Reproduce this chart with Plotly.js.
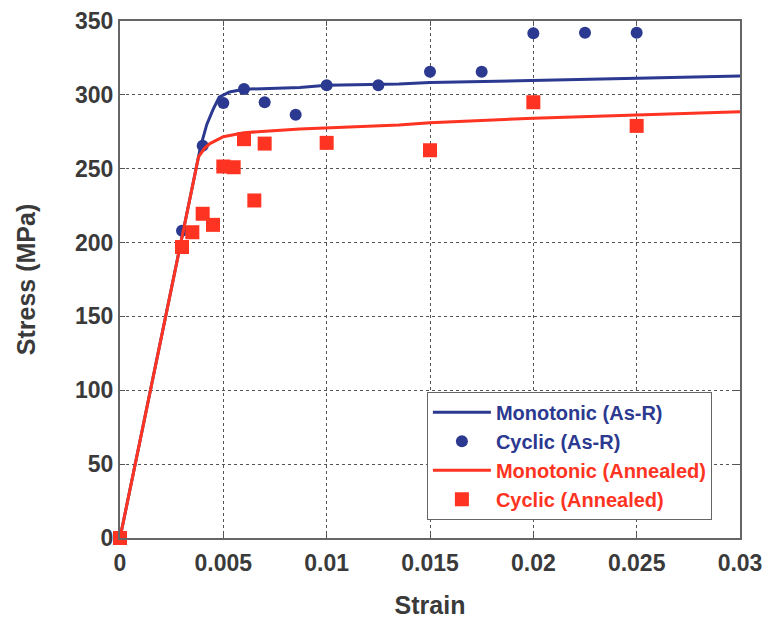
<!DOCTYPE html>
<html>
<head>
<meta charset="utf-8">
<script src="https://cdn.plot.ly/plotly-3.0.1.min.js"></script>
<style>html,body{margin:0;padding:0;background:#fff;}#chart{width:766px;height:622px;}</style>
</head>
<body>
<div id="chart"></div>
<script>
// Monotonic (As-R)
const monoAsRStrain = [0, 0.0039, 0.0042, 0.0045, 0.0048, 0.0053, 0.006, 0.0087, 0.01, 0.0135, 0.015, 0.02, 0.025, 0.03];
const monoAsRStress = [0, 265, 280, 290, 298.5, 302, 303.8, 305, 306.5, 307.4, 308.3, 310, 311.2, 312.8];
// Cyclic (As-R)
const cycAsRStrain = [0.003, 0.004, 0.005, 0.006, 0.007, 0.0085, 0.01, 0.0125, 0.015, 0.0175, 0.02, 0.0225, 0.025];
const cycAsRStress = [208, 265.5, 294.5, 304, 295, 286.5, 306.5, 306.5, 315.7, 315.7, 341.7, 342, 342];
// Monotonic (Annealed)
const monoAnnStrain = [0, 0.0038, 0.0041, 0.00435, 0.005, 0.006, 0.0087, 0.0135, 0.015, 0.02, 0.025, 0.03];
const monoAnnStress = [0, 258, 264, 267, 271.7, 274.4, 276.9, 279.6, 281.2, 284.2, 286.4, 288.6];
// Cyclic (Annealed)
const cycAnnStrain = [0, 0.003, 0.0035, 0.004, 0.0045, 0.005, 0.0055, 0.006, 0.0065, 0.007, 0.01, 0.015, 0.02, 0.025];
const cycAnnStress = [0, 197, 207, 219.5, 212, 251.5, 251, 270, 228.5, 267, 267.5, 262.5, 295, 279];

const xTickVals = [0, 0.005, 0.01, 0.015, 0.02, 0.025, 0.03];
const xTickText = ['0', '0.005', '0.01', '0.015', '0.02', '0.025', '0.03'];
const yTickVals = [0, 50, 100, 150, 200, 250, 300, 350];

const BLUE = '#2b3990';
const RED = '#ff3322';
const FONT = 'Liberation Sans, Arial, sans-serif';

const traces = [
  {x: monoAsRStrain, y: monoAsRStress, mode: 'lines', type: 'scatter',
   name: '<span style="color:' + BLUE + '">Monotonic (As-R)</span>',
   line: {color: BLUE, width: 3}},
  {x: cycAsRStrain, y: cycAsRStress, mode: 'markers', type: 'scatter', cliponaxis: false,
   name: '<span style="color:' + BLUE + '">Cyclic (As-R)</span>',
   marker: {color: BLUE, size: 12, symbol: 'circle'}},
  {x: monoAnnStrain, y: monoAnnStress, mode: 'lines', type: 'scatter',
   name: '<span style="color:' + RED + '">Monotonic (Annealed)</span>',
   line: {color: RED, width: 3}},
  {x: cycAnnStrain, y: cycAnnStress, mode: 'markers', type: 'scatter', cliponaxis: false,
   name: '<span style="color:' + RED + '">Cyclic (Annealed)</span>',
   marker: {color: RED, size: 14, symbol: 'square'}}
];

const axisCommon = {
  showgrid: true, gridcolor: '#555', griddash: 'dot', gridwidth: 1,
  showline: true, linecolor: '#666', linewidth: 2, mirror: 'ticks',
  ticks: 'inside', ticklen: 5, tickcolor: '#555', tickwidth: 1,
  zeroline: false,
  tickfont: {family: FONT, size: 23, color: '#3a3a3a', weight: 'bold'}
};

const layout = {
  width: 766, height: 622,
  margin: {l: 120, r: 26, t: 21, b: 84},
  paper_bgcolor: '#fff', plot_bgcolor: '#fff',
  font: {family: FONT},
  showlegend: true,
  xaxis: Object.assign({}, axisCommon, {
    range: [0, 0.03], tickvals: xTickVals, ticktext: xTickText,
    ticklabelstandoff: 3,
    title: {text: '<b>Strain</b>', font: {family: FONT, size: 25, color: '#3a3a3a'}, standoff: 22}
  }),
  yaxis: Object.assign({}, axisCommon, {
    range: [0, 350], tickvals: yTickVals,
    title: {text: '<b>Stress (MPa)</b>', font: {family: FONT, size: 25, color: '#3a3a3a'}, standoff: 32}
  }),
  legend: {
    x: 0.495, y: 0.283, xanchor: 'left', yanchor: 'top',
    bgcolor: '#fff', bordercolor: '#666', borderwidth: 1,
    font: {family: FONT, size: 20, weight: 'bold'},
    itemwidth: 58, tracegroupgap: 0
  }
};

Plotly.newPlot('chart', traces, layout, {displayModeBar: false, staticPlot: true});
</script>
</body>
</html>
